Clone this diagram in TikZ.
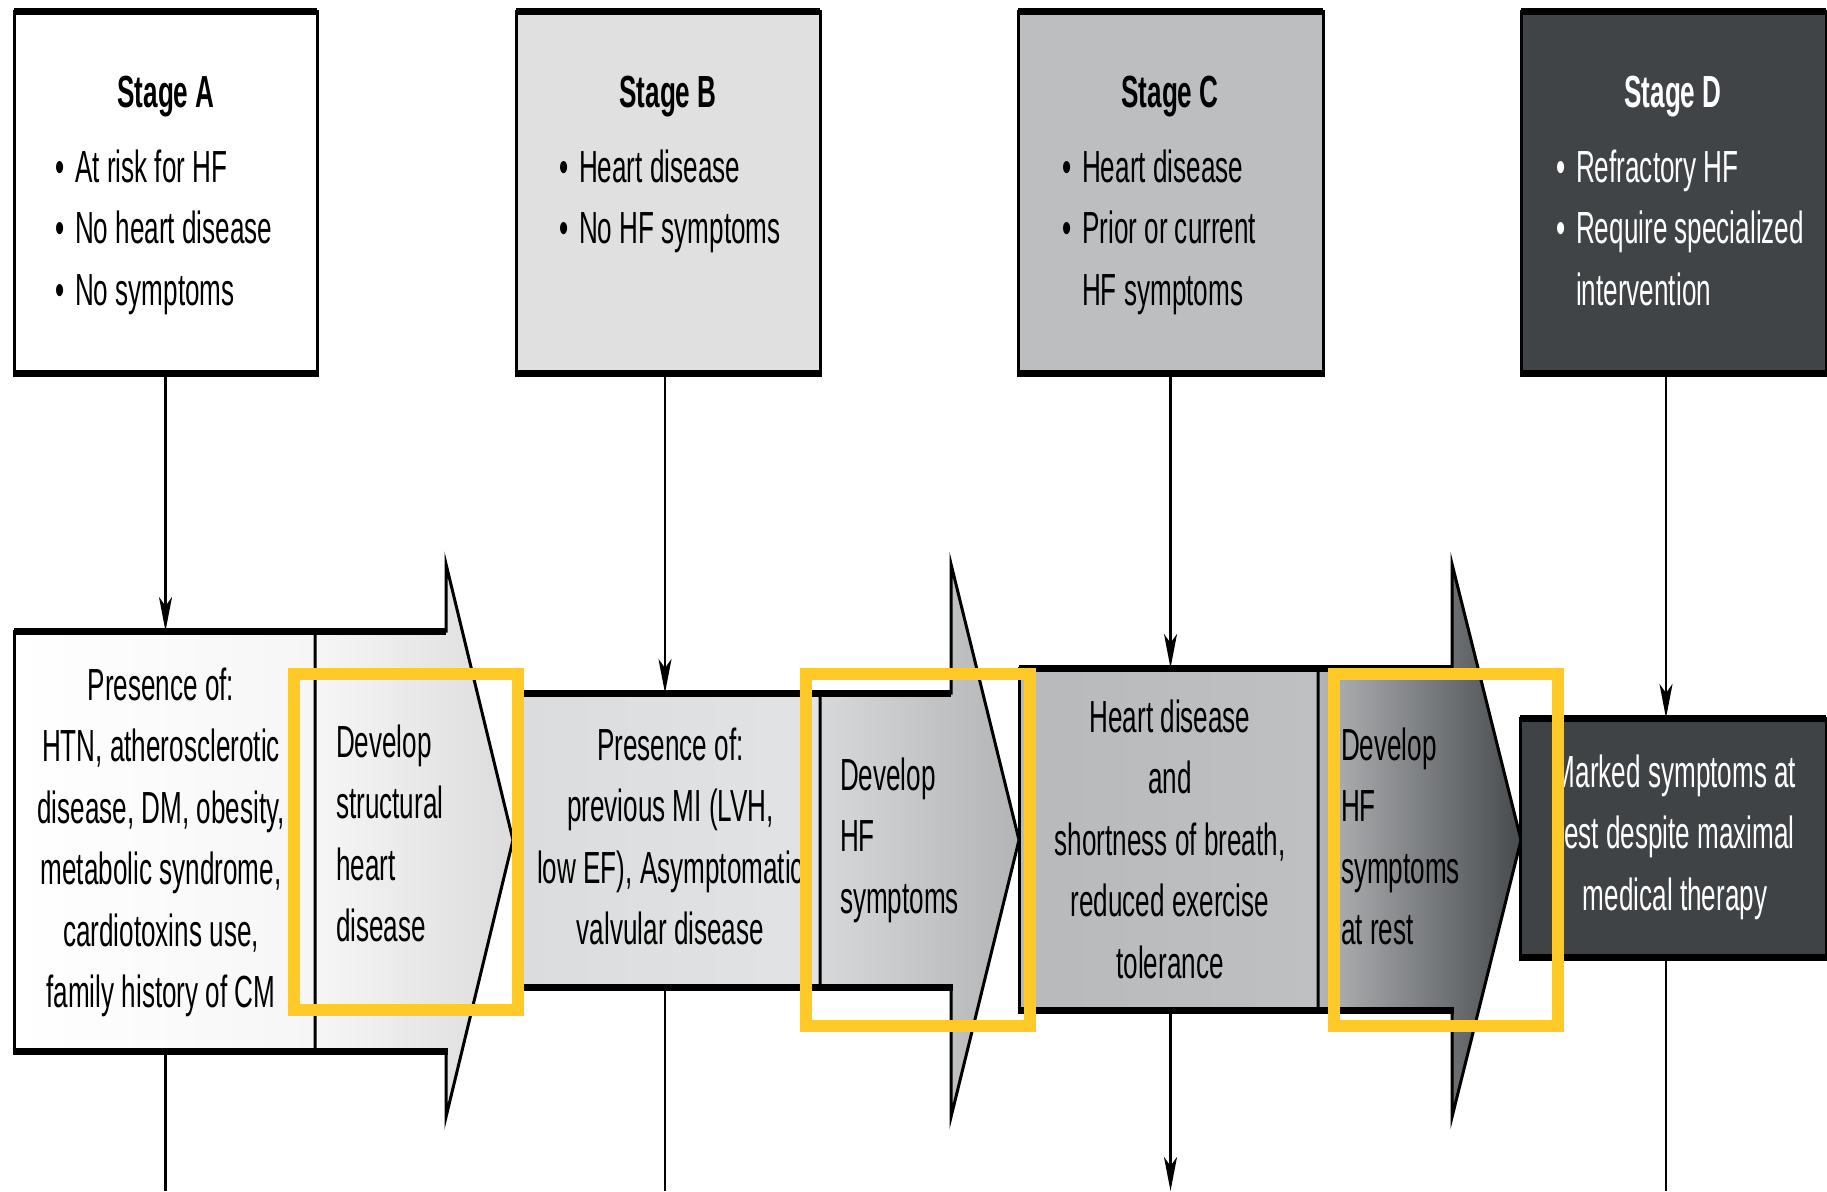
\documentclass[tikz,border=0pt]{standalone}
\usepackage{fontspec}
\setmainfont{Liberation Sans}[FakeStretch=0.58]
\usetikzlibrary{arrows.meta}

\definecolor{hiYellow}{RGB}{255,201,40}
\definecolor{fillSB}{RGB}{224,224,224}
\definecolor{fillSC}{RGB}{188,190,192}
\definecolor{fillSD}{RGB}{65,68,70}
\definecolor{bAr}{RGB}{246,246,246}
\definecolor{aAl}{RGB}{246,246,246}
\definecolor{aAr}{RGB}{220,220,220}
\definecolor{bBl}{RGB}{219,220,221}
\definecolor{bBr}{RGB}{226,227,228}
\definecolor{aBl}{RGB}{214,216,217}
\definecolor{aBr}{RGB}{178,180,182}
\definecolor{bCl}{RGB}{183,185,187}
\definecolor{bCr}{RGB}{190,192,194}
\definecolor{aCl}{RGB}{180,182,184}
\definecolor{aCr}{RGB}{72,75,78}
\definecolor{fillBD}{RGB}{64,67,69}

% centred or left-aligned block of lines, baseline on the first line
\newcommand{\linesblock}[2]{\begin{tabular}[t]{@{}#1@{}}#2\end{tabular}}
% bullet list with hanging second column
\newcommand{\bulletlist}[1]{\begin{tabular}[t]{@{}l@{\hspace{11pt}}l@{}}#1\end{tabular}}

\begin{document}
\begin{tikzpicture}[x=1pt,y=-1pt,
  stagebox/.style={draw=black, line width=3pt, rectangle, inner sep=0pt, outer sep=0pt},
  edgeband/.style={line width=7pt, shorten <=-1.5pt, shorten >=-1.5pt},
  conn/.style={line width=2.6pt, -{Stealth[length=34pt,width=13pt,inset=9pt]}},
  plainline/.style={line width=2.6pt},
  txt/.style={inner sep=0pt, outer sep=0pt, font=\fontsize{45}{61.5}\selectfont, text=black},
  title/.style={txt, font=\bfseries\fontsize{45}{61.5}\selectfont},
  arrowshape/.style={draw=black, line width=3pt, line join=miter},
  hilite/.style={draw=hiYellow, line width=12pt}]

\useasboundingbox (0,0) rectangle (1827,1191);
\fill[white] (0,0) rectangle (1827,1191);

% ---- stage boxes ----
\node[stagebox, fill=white,  minimum width=303pt, minimum height=362pt] (sA) at (165.5,192) {};
\node[stagebox, fill=fillSB, minimum width=304pt, minimum height=362pt] (sB) at (668,192) {};
\node[stagebox, fill=fillSC, minimum width=305pt, minimum height=362pt] (sC) at (1170.5,192) {};
\node[stagebox, fill=fillSD, minimum width=305pt, minimum height=362pt] (sD) at (1673.5,192) {};

\node[title, anchor=base] (tA) at (166,107) {Stage A};
\node[title, anchor=base] (tB) at (668,107) {Stage B};
\node[title, anchor=base] (tC) at (1170,107) {Stage C};
\node[title, anchor=base, text=white] (tD) at (1673,107) {Stage D};

\node[txt, anchor=base west] (lA) at (55,182)
  {\bulletlist{\textbullet & At risk for HF\\ \textbullet & No heart disease\\ \textbullet & No symptoms}};
\node[txt, anchor=base west] (lB) at (559,182)
  {\bulletlist{\textbullet & Heart disease\\ \textbullet & No HF symptoms}};
\node[txt, anchor=base west] (lC) at (1062,182)
  {\bulletlist{\textbullet & Heart disease\\ \textbullet & Prior or current\\ & HF symptoms}};
\node[txt, anchor=base west, text=white] (lD) at (1556,182)
  {\bulletlist{\textbullet & Refractory HF\\ \textbullet & Require specialized\\ & intervention}};

% ---- progression band ----
\node[stagebox, left color=white, middle color=white, right color=bAr,
      minimum width=301pt, minimum height=420pt] (bA) at (164.5,841) {};
\path[arrowshape, left color=aAl, right color=aAr]
  (315,631) -- (446,631) -- (446,564) -- (513,840) -- (446,1117) -- (446,1051) -- (315,1051) -- cycle;

\node[stagebox, left color=bBl, right color=bBr,
      minimum width=299pt, minimum height=294pt] (bB) at (670.5,840) {};
\path[arrowshape, left color=aBl, right color=aBr]
  (820,693) -- (951,693) -- (951,564) -- (1019,840) -- (951,1117) -- (951,987) -- (820,987) -- cycle;

\node[stagebox, left color=bCl, right color=bCr,
      minimum width=299pt, minimum height=342pt] (bC) at (1168.5,839) {};
\path[arrowshape, left color=aCl, right color=aCr]
  (1318,668) -- (1452,668) -- (1452,564) -- (1521,840) -- (1452,1117) -- (1452,1010) -- (1318,1010) -- cycle;

\node[stagebox, fill=fillBD, minimum width=306pt, minimum height=239pt] (bD) at (1673,837.5) {};

% heavier horizontal rules
\foreach \n in {sA,sB,sC,sD,bA,bB,bC,bD}
  \draw[edgeband] (\n.north west) -- (\n.north east) (\n.south west) -- (\n.south east);
\draw[edgeband] (315,631) -- (446,631) (315,1051) -- (446,1051);
\draw[edgeband] (820,693) -- (951,693) (820,987) -- (951,987);
\draw[edgeband] (1318,668) -- (1452,668) (1318,1010) -- (1452,1010);

% band texts
\node[txt, anchor=base] (pA) at (161,700)
  {\linesblock{c}{Presence of:\\HTN, atherosclerotic\\disease, DM, obesity,\\metabolic syndrome,\\cardiotoxins use,\\family history of CM}};
\node[txt, anchor=base west] (dA) at (336,757)
  {\linesblock{l}{Develop\\structural\\heart\\disease}};
\node[txt, anchor=base] (pB) at (670.5,760)
  {\linesblock{c}{Presence of:\\previous MI (LVH,\\low EF), Asymptomatic\\valvular disease}};
\node[txt, anchor=base west] (dB) at (840,790)
  {\linesblock{l}{Develop\\HF\\symptoms}};
\node[txt, anchor=base] (pC) at (1170,732)
  {\linesblock{c}{Heart disease\\and\\shortness of breath,\\reduced exercise\\tolerance}};
\node[txt, anchor=base west] (dC) at (1341,760)
  {\linesblock{l}{Develop\\HF\\symptoms\\at rest}};
\node[txt, anchor=base, text=white] (pD) at (1675,787)
  {\linesblock{c}{Marked symptoms at\\rest despite maximal\\medical therapy}};

% ---- connectors ----
\coordinate (jA) at (sA.south);
\coordinate (jB) at ([xshift=-3pt]sB.south);
\coordinate (jC) at (sC.south);
\coordinate (jD) at ([xshift=-7.5pt]sD.south);
\coordinate (floor) at (0,1191);

\draw[conn] (jA) -- (jA |- bA.north);
\draw[conn] (jB) -- (jB |- bB.north);
\draw[conn] (jC) -- (jC |- bC.north);
\draw[conn] (jD) -- (jD |- bD.north);

\draw[plainline] (jA |- bA.south) -- (jA |- floor);
\draw[plainline] (jB |- bB.south) -- (jB |- floor);
\draw[conn] (jC |- bC.south) -- (jC |- floor);
\draw[plainline] (jD |- bD.south) -- (jD |- floor);

% ---- highlight frames ----
\draw[hilite] (294,674) rectangle (518,1010);
\draw[hilite] (806,674) rectangle (1030,1026);
\draw[hilite] (1334,674) rectangle (1558,1026);
\end{tikzpicture}
\end{document}
